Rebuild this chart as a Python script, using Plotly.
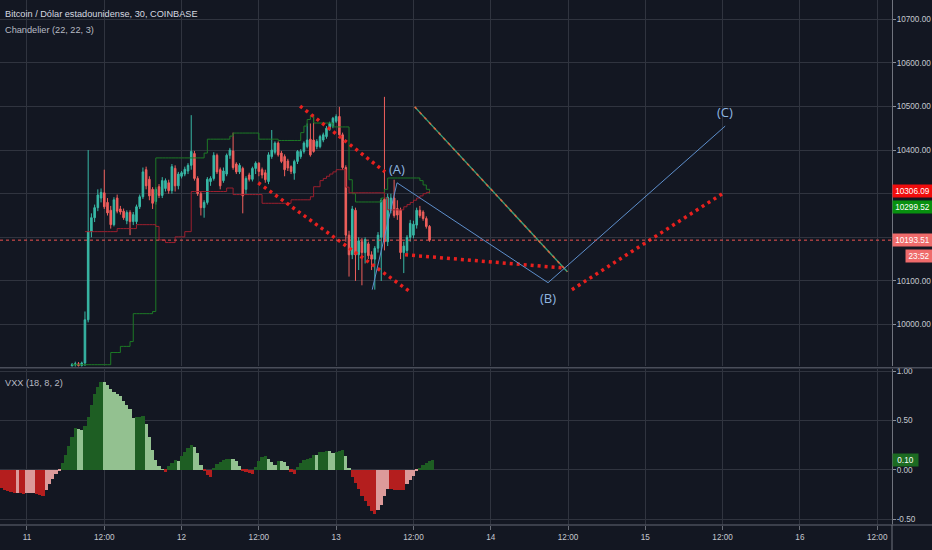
import plotly.graph_objects as go

# ---------------- data ----------------
title_main = "Bitcoin / Dólar estadounidense, 30, COINBASE"
title_ind = "Chandelier (22, 22, 3)"
title_vxx = "VXX (18, 8, 2)"

# 30-minute candles, first one at Sep 11 07:00 (hours from Sep 11 00:00)
candle_start_hour = 7.0
candle_step = 0.5
opens = [9905, 9908, 9910, 9906, 9912, 10011, 10213, 10245, 10268, 10290,
         10302, 10280, 10262, 10229, 10290, 10265, 10260, 10238, 10257, 10236,
         10236, 10270, 10293, 10355, 10333, 10310, 10282, 10316, 10296, 10312,
         10325, 10307, 10358, 10318, 10340, 10345, 10352, 10365, 10392, 10335,
         10300, 10268, 10280, 10328, 10335, 10388, 10355, 10330, 10345, 10388,
         10398, 10368, 10350, 10358, 10310, 10343, 10333, 10358, 10370, 10355,
         10348, 10328, 10385, 10395, 10416, 10393, 10385, 10375, 10362, 10347,
         10374, 10385, 10397, 10408, 10425, 10423, 10408, 10408, 10423, 10431,
         10448, 10454, 10466, 10477, 10435, 10360, 10205, 10160, 10262, 10160,
         10190, 10165, 10185, 10160, 10150, 10175, 10200, 10287, 10190, 10262,
         10290, 10266, 10262, 10165, 10170, 10200, 10205, 10228, 10262, 10258,
         10243, 10225]
highs = [9912, 9915, 9914, 9915, 10030, 10400, 10255, 10275, 10310, 10312,
         10355, 10290, 10272, 10292, 10298, 10272, 10266, 10262, 10262, 10258,
         10275, 10298, 10360, 10362, 10340, 10315, 10315, 10322, 10338, 10335,
         10332, 10368, 10365, 10350, 10352, 10362, 10370, 10480, 10398, 10340,
         10305, 10285, 10338, 10340, 10395, 10392, 10360, 10360, 10392, 10405,
         10440, 10372, 10370, 10362, 10340, 10348, 10362, 10374, 10372, 10360,
         10355, 10395, 10446, 10420, 10420, 10398, 10390, 10380, 10365, 10378,
         10400, 10402, 10420, 10461, 10461, 10477, 10425, 10435, 10440, 10455,
         10465, 10476, 10482, 10499, 10440, 10365, 10215, 10272, 10268, 10200,
         10198, 10200, 10190, 10168, 10180, 10212, 10290, 10522, 10300, 10300,
         10332, 10285, 10268, 10190, 10205, 10240, 10238, 10268, 10272, 10262,
         10248, 10228]
lows = [9895, 9900, 9903, 9900, 9905, 10005, 10200, 10235, 10260, 10280,
        10265, 10250, 10220, 10225, 10255, 10252, 10240, 10230, 10205, 10228,
        10230, 10265, 10288, 10310, 10285, 10265, 10275, 10290, 10290, 10305,
        10300, 10300, 10305, 10310, 10335, 10340, 10345, 10355, 10330, 10295,
        10250, 10245, 10275, 10318, 10330, 10345, 10310, 10325, 10340, 10380,
        10355, 10345, 10345, 10255, 10300, 10328, 10328, 10345, 10340, 10335,
        10325, 10322, 10380, 10390, 10385, 10370, 10340, 10352, 10345, 10332,
        10368, 10380, 10392, 10404, 10385, 10394, 10402, 10404, 10418, 10426,
        10444, 10450, 10462, 10430, 10355, 10190, 10110, 10150, 10100, 10125,
        10090, 10140, 10150, 10125, 10080, 10165, 10100, 10170, 10180, 10255,
        10245, 10240, 10150, 10118, 10160, 10190, 10198, 10220, 10245, 10238,
        10220, 10190]
closes = [9908, 9910, 9906, 9912, 10011, 10213, 10245, 10268, 10297, 10303,
          10270, 10256, 10229, 10286, 10260, 10258, 10245, 10257, 10236, 10252,
          10270, 10293, 10350, 10318, 10295, 10278, 10310, 10296, 10330, 10330,
          10307, 10362, 10318, 10345, 10348, 10356, 10365, 10397, 10335, 10300,
          10268, 10280, 10333, 10335, 10388, 10350, 10318, 10352, 10388, 10400,
          10360, 10350, 10365, 10295, 10335, 10333, 10358, 10370, 10351, 10343,
          10332, 10389, 10400, 10416, 10389, 10374, 10355, 10359, 10351, 10374,
          10397, 10397, 10416, 10423, 10389, 10397, 10420, 10431, 10435, 10450,
          10461, 10473, 10477, 10435, 10360, 10205, 10160, 10265, 10160, 10192,
          10165, 10195, 10158, 10150, 10175, 10205, 10285, 10190, 10292, 10290,
          10250, 10251, 10165, 10180, 10200, 10232, 10230, 10262, 10250, 10243,
          10225, 10193.51]

# Chandelier exit lines (one value per candle)
chandelier_long = ([9908] * 12 + [9936] * 3 + [9950] * 3 + [9961] + [10025] * 6 + [10030]
                   + [10382] * 15 + [10393] + [10425] * 7 + [10432] + [10439] * 8
                   + [10425] * 6 + [10422] * 7 + [10440, 10455, 10470, 10480]
                   + [10462] * 6 + [10453] * 5 + [10332, 10300] + [10281] * 8
                   + [10290, 10310] + [10336] * 10 + [10330, 10320, 10310, 10299.52])
chandelier_short = ([None] * 4 + [10213] * 10 + [10220] * 6 + [10229] * 6 + [10225]
                    + [10194] * 2 + [10188] * 3 + [10201] * 3 + [10213] * 2
                    + [10305] * 11 + [10313] * 2 + [10298] * 9 + [10278] * 9
                    + [10286] * 6 + [10293] + [10316] * 2
                    + [10330, 10335, 10340, 10345, 10350, 10355, 10355, 10355, 10315]
                    + [10302] * 11 + [10290] + [10263] * 5
                    + [10270, 10275, 10280, 10285, 10290, 10295, 10300, 10303, 10306.09])

# VXX oscillator, 30-minute values starting Sep 10 20:00 (hour -4)
vxx_start_hour = -4.0
vxx_values = [-0.19, -0.205, -0.22, -0.23, -0.24, -0.235, -0.24, -0.245, -0.24, -0.238,
              -0.235, -0.245, -0.255, -0.27, -0.21, -0.15, -0.09, -0.04, -0.005, 0.07,
              0.15, 0.24, 0.33, 0.42, 0.415, 0.405, 0.44, 0.53, 0.66, 0.77,
              0.84, 0.89, 0.885, 0.86, 0.82, 0.79, 0.77, 0.75, 0.70, 0.66,
              0.61, 0.52, 0.53, 0.535, 0.545, 0.46, 0.33, 0.20, 0.10, 0.04,
              0.005, -0.02, 0.04, 0.07, 0.095, 0.09, 0.14, 0.18, 0.22, 0.255,
              0.23, 0.17, 0.05, -0.01, -0.05, -0.07, 0.01, 0.06, 0.08, 0.095,
              0.105, 0.11, 0.105, 0.09, 0.04, -0.005, -0.02, -0.035, -0.045, 0.03,
              0.09, 0.125, 0.14, 0.11, 0.08, 0.05, 0.085, 0.083, 0.08, 0.04,
              -0.02, -0.04, 0.03, 0.07, 0.10, 0.11, 0.12, 0.15, 0.148, 0.175,
              0.18, 0.19, 0.185, 0.17, 0.175, 0.185, 0.20, 0.14, 0.02, -0.07,
              -0.14, -0.20, -0.27, -0.32, -0.37, -0.42, -0.45, -0.41, -0.36, -0.27,
              -0.20, -0.20, -0.203, -0.205, -0.207, -0.21, -0.15, -0.10, -0.06, -0.01,
              0.02, 0.05, 0.07, 0.09, 0.10]

# time axis (hours from Sep 11 00:00)
x_tick_hours = [0, 12, 24, 36, 48, 60, 72, 84, 96, 108, 120, 132]
x_tick_text = ["11", "12:00", "12", "12:00", "13", "12:00", "14", "12:00", "15", "12:00", "16", "12:00"]
price_grid = [10000, 10100, 10200, 10300, 10400, 10500, 10600, 10700]
price_tick_text = ["10000.00", "10100.00", "", "", "10400.00", "10500.00", "10600.00", "10700.00"]
vxx_grid = [-0.5, 0.0, 0.5, 1.0]
vxx_tick_text = ["-0.50", "0.00", "0.50", "1.00"]

last_price = 10193.51
last_long = 10299.52
last_short = 10306.09
last_vxx = 0.10
countdown = "23:52"

# hand-drawn analysis (time in hours, price)
wave_t = [53.6, 57.45, 80.9, 108.4]
wave_p = [10080, 10325, 10096, 10455]
wave_label_t = [57.45, 80.9, 108.4]
wave_label_p = [10357, 10060, 10487]
wave_label_text = ["(A)", "(B)", "(C)"]
dotted_lines = [  # (t0, p0, t1, p1)
    (42.4, 10501, 55.6, 10350),
    (35.9, 10325, 59.5, 10075),
    (58.7, 10160, 83.1, 10130),
    (84.6, 10080, 108.4, 10304),
]
target_line = (60.2, 10499, 83.9, 10121)

# ---------------- styling ----------------
BG = "#131722"
GRID = "#30343f"
TXT = "#c5c8d0"
UP = "#38b8a6"
DOWN = "#ef5f5c"
FONT = "Liberation Sans Narrow, Liberation Sans, Arial, sans-serif"
AXFS = 8.2

candle_t = [candle_start_hour + candle_step * i for i in range(len(closes))]
vxx_t = [vxx_start_hour + 0.5 * i for i in range(len(vxx_values))]

vxx_colors = []
for i, v in enumerate(vxx_values):
    prev = vxx_values[i - 1] if i > 0 else v + 0.01
    rising = v > prev
    if v >= 0:
        vxx_colors.append("#1e5e23" if rising else "#93c190")
    else:
        vxx_colors.append("#dc9a9a" if rising else "#b41e1e")

fig = go.Figure()

fig.add_trace(go.Candlestick(
    x=candle_t, open=opens, high=highs, low=lows, close=closes,
    increasing=dict(line=dict(color=UP, width=1), fillcolor=UP),
    decreasing=dict(line=dict(color=DOWN, width=1), fillcolor=DOWN),
    whiskerwidth=0, xaxis="x", yaxis="y", showlegend=False, hoverinfo="skip"))

fig.add_trace(go.Scatter(x=candle_t, y=chandelier_long, mode="lines",
                         line=dict(color="#1d7a26", width=1, shape="hv"),
                         xaxis="x", yaxis="y", showlegend=False, hoverinfo="skip"))
fig.add_trace(go.Scatter(x=candle_t, y=chandelier_short, mode="lines",
                         line=dict(color="#9c1f2e", width=1, shape="hv"),
                         xaxis="x", yaxis="y", showlegend=False, hoverinfo="skip"))

for (t0, p0, t1, p1) in dotted_lines:
    fig.add_trace(go.Scatter(x=[t0, t1], y=[p0, p1], mode="lines",
                             line=dict(color="#e8201e", width=3.5, dash="3px,4px"),
                             xaxis="x", yaxis="y", showlegend=False, hoverinfo="skip"))

fig.add_trace(go.Scatter(x=[target_line[0], target_line[2]], y=[target_line[1], target_line[3]],
                         mode="lines", line=dict(color="#35a37a", width=1.4),
                         xaxis="x", yaxis="y", showlegend=False, hoverinfo="skip"))
fig.add_trace(go.Scatter(x=[target_line[0], target_line[2]], y=[target_line[1], target_line[3]],
                         mode="lines", line=dict(color="#e0603a", width=1.5, dash="3px,4px"),
                         xaxis="x", yaxis="y", showlegend=False, hoverinfo="skip"))

fig.add_trace(go.Scatter(x=wave_t, y=wave_p, mode="lines",
                         line=dict(color="#5e8fcc", width=1),
                         xaxis="x", yaxis="y", showlegend=False, hoverinfo="skip"))

fig.add_trace(go.Bar(x=vxx_t, y=vxx_values, width=0.5, marker=dict(color=vxx_colors, line=dict(width=0)),
                     xaxis="x", yaxis="y2", showlegend=False, hoverinfo="skip"))

annotations = []
for t, p, s in zip(wave_label_t, wave_label_p, wave_label_text):
    annotations.append(dict(x=t, y=p, xref="x", yref="y", text=s, showarrow=False,
                            font=dict(family="Open Sans, sans-serif", size=13, color="#8fb6e0")))

annotations += [
    dict(x=0, y=1, xref="paper", yref="paper", xanchor="left", yanchor="top", xshift=3, yshift=-7,
         text=title_main, showarrow=False, font=dict(family=FONT, size=9.2, color="#d6d9e0")),
    dict(x=0, y=1, xref="paper", yref="paper", xanchor="left", yanchor="top", xshift=3, yshift=-23,
         text=title_ind, showarrow=False, font=dict(family=FONT, size=9.2, color="#b8bbc4")),
    dict(x=0, y=0.297, xref="paper", yref="paper", xanchor="left", yanchor="top", xshift=3, yshift=-7,
         text=title_vxx, showarrow=False, font=dict(family=FONT, size=9.2, color="#b8bbc4")),
]

def axis_box(y, yref, text, bg, yshift=0, xshift=0, width=36):
    return dict(x=1, y=y, xref="paper", yref=yref, xanchor="left", yanchor="middle",
                xshift=xshift, yshift=yshift, text=text, showarrow=False, bgcolor=bg,
                borderpad=1.5, width=width, align="center",
                font=dict(family=FONT, size=AXFS, color="#ffffff"))

annotations += [
    axis_box(last_short, "y", f"{last_short:.2f}", "#f00d0d", yshift=0),
    axis_box(last_long, "y", f"{last_long:.2f}", "#08900f", yshift=-13),
    axis_box(last_price, "y", f"{last_price:.2f}", "#ef6b6b", yshift=0),
    axis_box(last_price, "y", countdown, "#ef6b6b", yshift=-16, xshift=13, width=23),
    axis_box(last_vxx, "y2", f"{last_vxx:.2f}", "#1c6b22", yshift=0, width=22),
]

shapes = [
    dict(type="line", xref="x domain", yref="y", x0=0, x1=1, y0=last_price, y1=last_price,
         line=dict(color="#ef5350", width=1, dash="dot"), layer="above"),
    dict(type="line", xref="paper", yref="paper", x0=0, x1=1.05, y0=0.2995, y1=0.2995,
         line=dict(color="#4a4e5a", width=1.5)),
    dict(type="line", xref="paper", yref="paper", x0=0, x1=1.05, y0=0, y1=0,
         line=dict(color="#4a4e5a", width=1.5)),
    dict(type="line", xref="paper", yref="paper", x0=1, x1=1, y0=0, y1=-0.05,
         line=dict(color="#70747e", width=1)),
]

axis_common = dict(showgrid=True, gridcolor=GRID, gridwidth=1, zeroline=False, automargin=False,
                   tickfont=dict(family=FONT, size=AXFS, color=TXT))

fig.update_layout(
    width=932, height=550,
    margin=dict(l=0, r=40, t=0, b=25),
    paper_bgcolor=BG, plot_bgcolor=BG,
    bargap=0, showlegend=False,
    xaxis=dict(range=[-4.19, 134.3], tickmode="array", tickvals=x_tick_hours, ticktext=x_tick_text,
               anchor="y2", rangeslider=dict(visible=False), showline=False, ticks="outside",
               ticklen=4, tickcolor="#6a6e78", **axis_common),
    yaxis=dict(domain=[0.302, 1], range=[9904, 10744], side="right", anchor="x",
               tickmode="array", tickvals=price_grid, ticktext=price_tick_text,
               ticks="outside", ticklen=3, tickcolor="#8a8e98", showline=True,
               ticklabelstandoff=-1,
               linecolor="#70747e", linewidth=1, **axis_common),
    yaxis2=dict(domain=[0, 0.297], range=[-0.56, 1.02], side="right", anchor="x",
                tickmode="array", tickvals=vxx_grid, ticktext=vxx_tick_text,
                ticks="outside", ticklen=3, tickcolor="#8a8e98", showline=True,
                ticklabelstandoff=-1,
                linecolor="#70747e", linewidth=1, **axis_common),
    annotations=annotations,
    shapes=shapes,
)

fig.write_html("out.html", config={"displayModeBar": False},
               post_script="document.body.style.margin='0';document.body.style.overflow='hidden';")
